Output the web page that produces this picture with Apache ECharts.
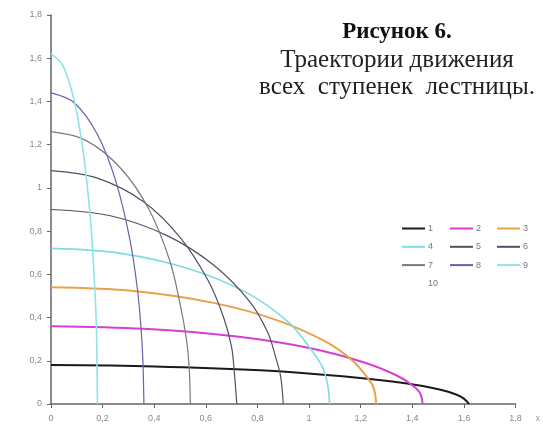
<!DOCTYPE html>
<html lang="ru">
<head>
    <meta charset="UTF-8">
    <title>Траектории ступенек</title>
    <script src="https://cdn.jsdelivr.net/npm/echarts@6/dist/echarts.min.js"></script>
    <style>
        html, body { margin: 0; padding: 0; background: #fff; }
    </style>
</head>
<body>
<div id="chart" style="width: 543px; height: 434px"></div>
<script>
    // точки траекторий: [x, y]
    var step1 = [[0,0.18],[0.4,0.174],[0.81,0.156],[1.13,0.128],[1.38,0.095],[1.51,0.066],[1.57,0.044],[1.6,0.025],[1.62,0]];
    var step2 = [[0,0.36],[0.36,0.348],[0.72,0.312],[1.01,0.257],[1.22,0.19],[1.34,0.132],[1.4,0.087],[1.43,0.051],[1.44,0]];
    var step3 = [[0,0.54],[0.32,0.523],[0.63,0.468],[0.88,0.386],[1.07,0.285],[1.17,0.199],[1.22,0.131],[1.25,0.076],[1.26,0]];
    var step4 = [[0,0.72],[0.27,0.697],[0.54,0.624],[0.76,0.514],[0.92,0.379],[1.0,0.265],[1.05,0.175],[1.07,0.102],[1.08,0]];
    var step5 = [[0,0.9],[0.23,0.871],[0.45,0.779],[0.63,0.643],[0.77,0.474],[0.84,0.331],[0.87,0.219],[0.89,0.127],[0.9,0]];
    var step6 = [[0,1.08],[0.18,1.045],[0.36,0.935],[0.5,0.771],[0.61,0.569],[0.67,0.397],[0.7,0.262],[0.71,0.152],[0.72,0]];
    var step7 = [[0,1.26],[0.135,1.22],[0.27,1.091],[0.38,0.9],[0.46,0.664],[0.5,0.464],[0.524,0.306],[0.535,0.178],[0.54,0]];
    var step8 = [[0,1.44],[0.09,1.394],[0.18,1.247],[0.252,1.028],[0.306,0.759],[0.335,0.53],[0.349,0.35],[0.356,0.203],[0.36,0]];
    var step9 = [[0,1.62],[0.045,1.568],[0.09,1.403],[0.126,1.157],[0.153,0.854],[0.167,0.596],[0.175,0.394],[0.178,0.228],[0.18,0]];
    var step10 = [];

    var names = ['1','2','3','4','5','6','7','8','9','10'];
    var colors = ['#1a1a1a','#d63fd2','#eba04a','#7fdbe6','#5b4d5c','#4b5166','#7a7a7a','#6b5fae','#8fe3ea','#ffffff'];
    var widths = [2, 2, 2, 1.6, 1.2, 1.2, 1.2, 1.2, 1.6, 0];
    var steps = [step1, step2, step3, step4, step5, step6, step7, step8, step9, step10];

    // колонки легенды
    var legendCol1 = ['1','4','7','10'];
    var legendCol2 = ['2','5','8'];
    var legendCol3 = ['3','6','9'];

    function comma(v) {
        return String(Math.round(v * 10) / 10).replace('.', ',');
    }

    var chart = echarts.init(document.getElementById('chart'));

    var series = [];
    for (var i = 0; i < steps.length; i++) {
        series.push({
            name: names[i],
            type: 'line',
            data: steps[i],
            smooth: 0.35,
            symbol: 'none',
            color: colors[i],
            lineStyle: { color: colors[i], width: widths[i] }
        });
    }

    function legendCol(data, left) {
        return {
            data: data,
            orient: 'vertical',
            left: left,
            top: 224,
            icon: 'rect',
            itemWidth: 23,
            itemHeight: 2,
            itemGap: 9.3,
            padding: 0,
            textStyle: { fontSize: 9, color: '#777', fontFamily: 'Liberation Sans', padding: [0, 0, 0, -2] }
        };
    }

    var option = {
        animation: false,
        backgroundColor: '#fff',
        title: {
            text: '{b|Рисунок 6.}\n{n|Траектории движения}\n{n|всех  ступенек  лестницы.}',
            left: 392,
            top: 13,
            textAlign: 'center',
            textStyle: {
                fontWeight: 'normal',
                rich: {
                    b: { fontFamily: 'Liberation Serif', fontSize: 23, fontWeight: 'bold', color: '#111', lineHeight: 29 },
                    n: { fontFamily: 'Liberation Serif', fontSize: 25, fontWeight: 'normal', color: '#222', lineHeight: 27 }
                }
            }
        },
        legend: [legendCol(legendCol1, 402), legendCol(legendCol2, 450), legendCol(legendCol3, 497)],
        grid: { left: 51, right: 26, top: 15, bottom: 30 },
        xAxis: {
            type: 'value',
            min: 0,
            max: 1.8,
            interval: 0.2,
            name: 'x',
            nameGap: 20,
            nameTextStyle: { fontSize: 9, color: '#999', fontFamily: 'Liberation Sans', verticalAlign: 'top', padding: [10, 0, 0, 0] },
            axisLine: { lineStyle: { color: '#666', width: 1.5 } },
            axisTick: { show: true, length: 4, lineStyle: { color: '#666' } },
            axisLabel: { formatter: comma, fontSize: 9, color: '#888', margin: 10, fontFamily: 'Liberation Sans' },
            splitLine: { show: false }
        },
        yAxis: {
            type: 'value',
            min: 0,
            max: 1.8,
            interval: 0.2,
            axisLine: { show: true, lineStyle: { color: '#666', width: 1.5 } },
            axisTick: { show: true, length: 4, lineStyle: { color: '#666' } },
            axisLabel: { formatter: comma, fontSize: 9, color: '#888', margin: 9, fontFamily: 'Liberation Sans' },
            splitLine: { show: false }
        },
        series: series
    };
    chart.setOption(option);
</script>
</body>
</html>
